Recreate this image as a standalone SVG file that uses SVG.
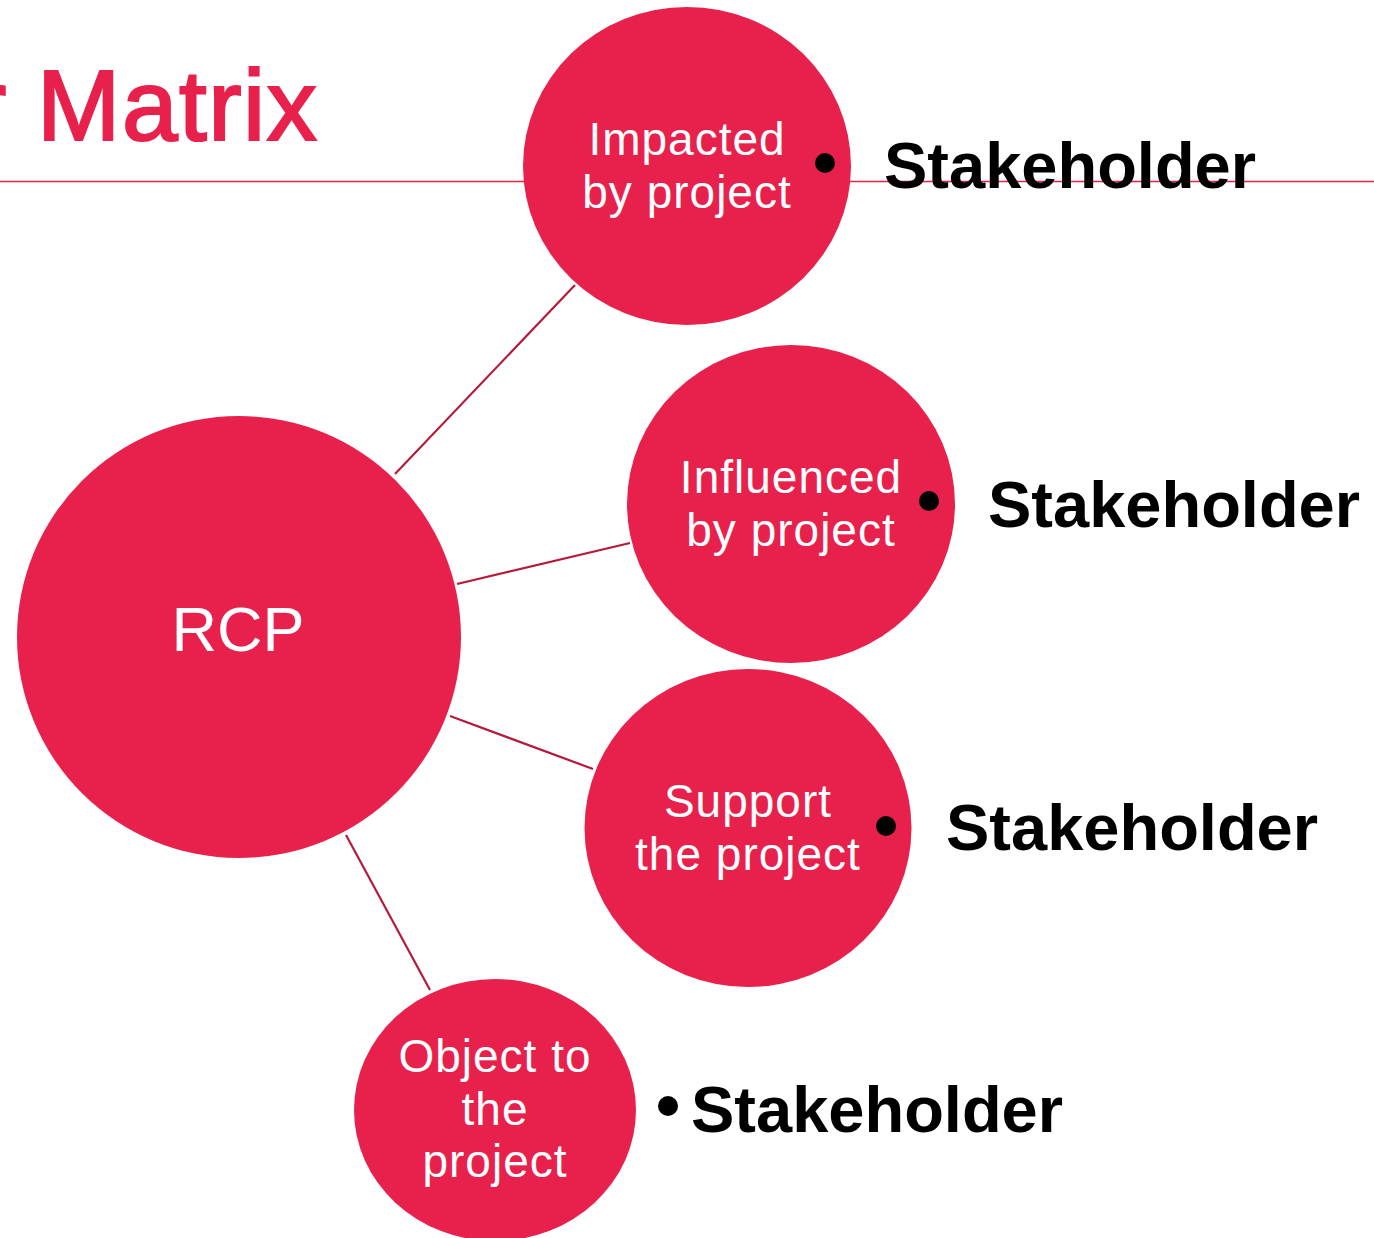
<svg xmlns="http://www.w3.org/2000/svg" width="1374" height="1238" viewBox="0 0 1374 1238">
<style>
.node{fill:#E8214C}
.lbl{fill:#fff;font-family:"Liberation Sans",Arial,sans-serif;font-size:46px;letter-spacing:1px;text-anchor:middle}
.big{font-size:63px;letter-spacing:0}
.st{fill:#000;font-family:"Liberation Sans",Arial,sans-serif;font-size:65px;font-weight:bold}
.dot{fill:#000}
.conn line{stroke:#B51A3C;stroke-width:2.2}
</style>
<rect width="1374" height="1238" fill="#fff"/>
<text x="-27" y="140" font-family="'Liberation Sans',Arial,sans-serif" font-size="100" letter-spacing="1.5" fill="#E8214C" stroke="#E8214C" stroke-width="2.2">r Matrix</text>
<line x1="0" y1="181.5" x2="1374" y2="181.5" stroke="#E8214C" stroke-width="1.5"/>
<g id="connectors" class="conn">
<line x1="395" y1="474" x2="575" y2="285"/>
<line x1="457" y1="584" x2="630" y2="543"/>
<line x1="450" y1="716" x2="593" y2="769"/>
<line x1="346" y1="835" x2="430" y2="990"/>
</g>
<g id="rcp">
<ellipse class="node" cx="239" cy="637" rx="222" ry="221"/>
<text class="lbl big" x="238" y="651">RCP</text>
</g>
<g id="impacted">
<ellipse class="node" cx="687" cy="166" rx="164" ry="159"/>
<text class="lbl" x="687" y="155">Impacted</text>
<text class="lbl" x="687" y="208">by project</text>
<circle class="dot" cx="825" cy="163" r="10"/>
<text class="st" x="884" y="188">Stakeholder</text>
</g>
<g id="influenced">
<ellipse class="node" cx="791" cy="504" rx="164" ry="159"/>
<text class="lbl" x="791" y="493">Influenced</text>
<text class="lbl" x="791" y="546">by project</text>
<circle class="dot" cx="929" cy="501" r="10"/>
<text class="st" x="988" y="527">Stakeholder</text>
</g>
<g id="support">
<ellipse class="node" cx="748" cy="828" rx="163.5" ry="159"/>
<text class="lbl" x="748" y="817">Support</text>
<text class="lbl" x="748" y="870">the project</text>
<circle class="dot" cx="886" cy="826" r="10"/>
<text class="st" x="946" y="850">Stakeholder</text>
</g>
<g id="object">
<ellipse class="node" cx="495" cy="1110" rx="141" ry="131"/>
<text class="lbl" x="495" y="1072">Object to</text>
<text class="lbl" x="495" y="1125">the</text>
<text class="lbl" x="495" y="1177">project</text>
<circle class="dot" cx="668" cy="1106" r="10"/>
<text class="st" x="691" y="1132">Stakeholder</text>
</g>
</svg>
